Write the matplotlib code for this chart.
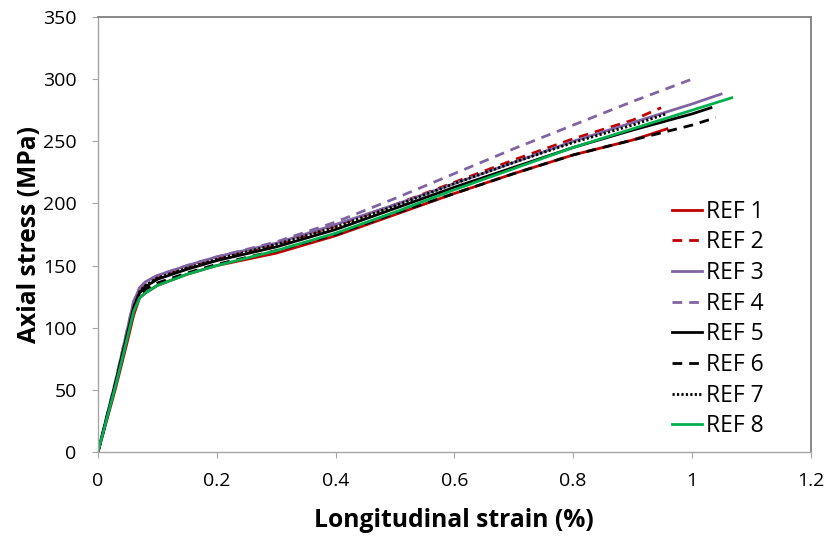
import matplotlib
matplotlib.use("Agg")
import matplotlib.pyplot as plt

plt.rcParams['font.family'] = ['Open Sans', 'DejaVu Sans']

# strain (%) / axial stress (MPa)
ref1_x = [0, 0.03, 0.05, 0.06, 0.07, 0.08, 0.1, 0.15, 0.2, 0.3, 0.4, 0.5, 0.6, 0.7, 0.8, 0.9, 0.958]
ref1_y = [0, 52, 90, 110, 124, 128, 134, 143, 150, 160, 174, 191, 208, 224, 239, 251, 260]
ref2_x = [0, 0.03, 0.05, 0.06, 0.07, 0.08, 0.1, 0.15, 0.2, 0.3, 0.4, 0.5, 0.6, 0.7, 0.8, 0.9, 0.948]
ref2_y = [0, 56, 97, 117, 129, 134, 140, 149, 156, 167, 182, 199, 217, 235, 252, 267, 277]
ref3_x = [0, 0.03, 0.05, 0.06, 0.07, 0.08, 0.1, 0.15, 0.2, 0.3, 0.4, 0.5, 0.6, 0.7, 0.8, 0.9, 1.0, 1.049]
ref3_y = [0, 58, 100, 121, 132, 137, 142, 150, 157, 168, 183, 199, 216, 233, 250, 265, 280, 288]
ref4_x = [0, 0.03, 0.05, 0.06, 0.07, 0.08, 0.1, 0.15, 0.2, 0.3, 0.4, 0.5, 0.6, 0.7, 0.8, 0.9, 1.0]
ref4_y = [0, 58, 100, 121, 132, 137, 142, 150, 157, 169, 185, 204, 224, 244, 263, 282, 300]
ref5_x = [0, 0.03, 0.05, 0.06, 0.07, 0.08, 0.1, 0.15, 0.2, 0.3, 0.4, 0.5, 0.6, 0.7, 0.8, 0.9, 1.0, 1.032]
ref5_y = [0, 56, 96, 116, 128, 133, 139, 147, 154, 165, 179, 196, 213, 229, 245, 259, 272, 277]
ref6_x = [0, 0.03, 0.05, 0.06, 0.07, 0.08, 0.1, 0.15, 0.2, 0.3, 0.4, 0.5, 0.6, 0.7, 0.8, 0.9, 1.0, 1.04]
ref6_y = [0, 55, 94, 114, 126, 131, 136, 144, 151, 162, 175, 192, 208, 224, 239, 251, 263, 269]
ref7_x = [0, 0.03, 0.05, 0.06, 0.07, 0.08, 0.1, 0.15, 0.2, 0.3, 0.4, 0.5, 0.6, 0.7, 0.8, 0.9, 0.956]
ref7_y = [0, 56, 96, 116, 129, 134, 140, 148, 155, 167, 181, 198, 216, 233, 249, 263, 272]
ref8_x = [0, 0.03, 0.05, 0.06, 0.07, 0.08, 0.1, 0.15, 0.2, 0.3, 0.4, 0.5, 0.6, 0.7, 0.8, 0.9, 1.0, 1.067]
ref8_y = [0, 54, 93, 113, 124, 128, 134, 143, 150, 162, 176, 193, 211, 228, 245, 260, 275, 285]

RED = '#C00000'
PURPLE = '#8064A2'
GREEN = '#00B050'
dash = (0, (3.5, 2.5))

fig = plt.figure(figsize=(8.29, 5.38), dpi=100)
ax = fig.add_axes([0.1182, 0.1599, 0.8598, 0.8085])

lw = 2.0
ax.plot(ref1_x, ref1_y, color=RED, lw=lw, label='REF 1')
ax.plot(ref2_x, ref2_y, color=RED, lw=lw, ls=dash, label='REF 2')
ax.plot(ref3_x, ref3_y, color=PURPLE, lw=lw, label='REF 3')
ax.plot(ref4_x, ref4_y, color=PURPLE, lw=lw, ls=dash, label='REF 4')
ax.plot(ref5_x, ref5_y, color='black', lw=lw, label='REF 5')
ax.plot(ref6_x, ref6_y, color='black', lw=lw, ls=dash, label='REF 6')
ax.plot(ref7_x, ref7_y, color='black', lw=lw, ls=(0, (0.8, 0.8)), label='REF 7')
ax.plot(ref8_x, ref8_y, color=GREEN, lw=lw, label='REF 8')

ax.set_xlim(0, 1.2)
ax.set_ylim(0, 350)
ax.set_xticks([0, 0.2, 0.4, 0.6, 0.8, 1.0, 1.2])
ax.set_xticklabels(['0', '0.2', '0.4', '0.6', '0.8', '1', '1.2'])
ax.set_yticks(range(0, 351, 50))

for side in ['left', 'bottom']:
    ax.spines[side].set_color('#A6A6A6')
    ax.spines[side].set_linewidth(1.0)
for side in ['top', 'right']:
    ax.spines[side].set_color('#7F7F7F')
    ax.spines[side].set_linewidth(1.3)
ax.tick_params(direction='out', length=4.3, color='#A6A6A6', labelsize=14)
ax.tick_params(axis='y', pad=11)
ax.tick_params(axis='x', pad=10)

ax.set_xlabel('Longitudinal strain (%)', fontsize=17.7, fontweight='bold', labelpad=13)
ax.set_ylabel('Axial stress (MPa)', fontsize=17.7, fontweight='bold', labelpad=1)

ax.legend(loc='upper left', bbox_to_anchor=(0.806, 0.58), frameon=False,
          fontsize=16.5, borderaxespad=0, borderpad=0, handlelength=1.3,
          handletextpad=0.15, labelspacing=0.29)

fig.savefig('out.png', dpi=100)
